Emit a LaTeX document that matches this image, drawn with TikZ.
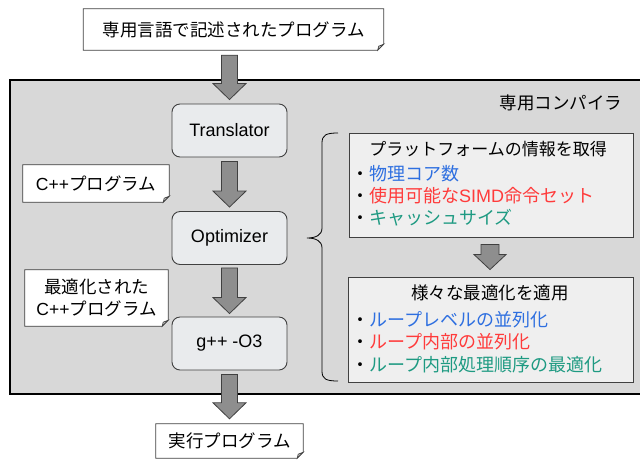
\documentclass[tikz,border=0pt]{standalone}
\usepackage{fontspec}
\setmainfont{Liberation Sans}
\newfontfamily\cjk{Noto Sans CJK JP}
\usetikzlibrary{calc}
\definecolor{graybg}{HTML}{D8D8D8}
\definecolor{stepfill}{HTML}{E9EBED}
\definecolor{infofill}{HTML}{EFEFEF}
\definecolor{edge}{HTML}{404040}
\definecolor{arrowfill}{HTML}{8E8E8E}
\definecolor{cblue}{HTML}{2E6FE0}
\definecolor{cred}{HTML}{FF3B3B}
\definecolor{cteal}{HTML}{1E9A82}
\tikzset{
  jtext/.style={font=\fontsize{17pt}{21pt}\selectfont\cjk, inner sep=0pt},
  itemtext/.style={font=\fontsize{18pt}{21pt}\selectfont\cjk, inner sep=0pt, anchor=west},
  stepbox/.style={draw=edge, line width=0.9pt, fill=stepfill, rounded corners=8pt,
    minimum width=115pt, minimum height=53pt, inner sep=0pt,
    font=\fontsize{18pt}{21pt}\selectfont},
  infobox/.style={draw=edge, line width=0.9pt, fill=infofill, inner sep=0pt},
  notebox/.style={fill=white, inner sep=0pt, align=center,
    font=\fontsize{17.5pt}{22pt}\selectfont\cjk},
  noteline/.style={draw=edge, line width=0.7pt},
  barrow/.style={draw=edge, line width=0.8pt, fill=arrowfill, line join=miter},
  bracestyle/.style={draw=black, line width=0.8pt},
}
\newcommand\notedeco[2]{%
  \fill[#2] ([yshift=6pt]#1.south east) -- (#1.south east) -- ([xshift=-6pt]#1.south east) -- cycle;
  \draw[noteline] (#1.north west) -- (#1.north east) -- ([yshift=6pt]#1.south east)
     -- ([xshift=-6pt]#1.south east) -- (#1.south west) -- cycle;
  \draw[noteline, fill=gray!45] ([yshift=6pt]#1.south east) -- ([xshift=-6pt]#1.south east)
     -- ([xshift=-5pt,yshift=4pt]#1.south east) -- cycle;}
\newcommand\blockarrow[2]{%
  \draw[barrow] ($(#1)+(-8,0)$) -- ($(#1)+(8,0)$) -- ($(#2)+(8,-16)$) -- ($(#2)+(16.5,-16)$)
    -- (#2) -- ($(#2)+(-16.5,-16)$) -- ($(#2)+(-8,-16)$) -- cycle;}
\begin{document}
\begin{tikzpicture}[x=1pt,y=-1pt]
\useasboundingbox (0,0) rectangle (640,459);
% compiler container
\node[draw=black, line width=1.6pt, fill=graybg, minimum width=660pt, minimum height=314pt,
  inner sep=0pt, anchor=north west] (comp) at (9,79) {};
\node[jtext, font=\fontsize{17.5pt}{21pt}\selectfont\cjk] (comptitle) at (561,103) {専用コンパイラ};

% source note
\node[notebox, minimum width=300pt, minimum height=41pt] (src) at (233.5,29.5) {専用言語で記述されたプログラム};
\notedeco{src}{white}

% main steps
\node[stepbox] (tr) at (229.5,130.5) {Translator};
\node[stepbox] (opt) at (229.5,238) {Optimizer};
\node[stepbox] (gpp) at (229.5,343.5) {g++ -O3};

% intermediate notes
\node[notebox, minimum width=146pt, minimum height=37pt] (cpp) at (96,183.5) {{\rmfamily C++}プログラム};
\notedeco{cpp}{graybg}
\node[notebox, minimum width=143pt, minimum height=56pt] (ocpp) at (96.5,298) {最適化された\\{\rmfamily C++}プログラム};
\notedeco{ocpp}{graybg}

% output note
\node[notebox, minimum width=147pt, minimum height=34pt] (out) at (229.5,441) {実行プログラム};
\notedeco{out}{white}

% arrows
\coordinate (a1s) at ($(tr.north |- src.south)+(0,5)$);
\coordinate (a1e) at ($(tr.north)+(0,-4)$);
\blockarrow{a1s}{a1e}
\coordinate (a2s) at ($(tr.south)+(0,4)$);
\coordinate (a2e) at ($(opt.north)+(0,-4)$);
\blockarrow{a2s}{a2e}
\coordinate (a3s) at ($(opt.south)+(0,3)$);
\coordinate (a3e) at ($(gpp.north)+(0,-3)$);
\blockarrow{a3s}{a3e}
\coordinate (a4s) at ($(gpp.south)+(0,4)$);
\coordinate (a4e) at ($(tr.south |- out.north)+(0,-5)$);
\blockarrow{a4s}{a4e}

% info boxes
\node[infobox, minimum width=284pt, minimum height=104pt] (info) at (491,185) {};
\node[jtext] (infot) at (488,149) {プラットフォームの情報を取得};
\node[itemtext] (i1) at (351,174) {・\textcolor{cblue}{物理コア数}};
\node[itemtext] (i2) at (351,196) {・\textcolor{cred}{使用可能な{\rmfamily SIMD}命令セット}};
\node[itemtext] (i3) at (351,218) {・\textcolor{cteal}{キャッシュサイズ}};

\node[infobox, minimum width=285pt, minimum height=105pt] (opts) at (490.5,329.5) {};
\node[jtext, font=\fontsize{17.5pt}{21pt}\selectfont\cjk] (optst) at (490,293) {様々な最適化を適用};
\node[itemtext] (o1) at (351,320) {・\textcolor{cblue}{ループレベルの並列化}};
\node[itemtext] (o2) at (351,342) {・\textcolor{cred}{ループ内部の並列化}};
\node[itemtext] (o3) at (351,365) {・\textcolor{cteal}{ループ内部処理順序の最適化}};

\coordinate (a5s) at ($(info.south)+(-1,7)$);
\coordinate (a5e) at ($(opts.north)+(-0.5,-7)$);
\draw[barrow] ($(a5s)+(-9,0)$) -- ($(a5s)+(9,0)$) -- ($(a5e)+(9,-15)$) -- ($(a5e)+(16,-15)$)
    -- (a5e) -- ($(a5e)+(-16,-15)$) -- ($(a5e)+(-9,-15)$) -- cycle;

% brace
\coordinate (bt) at (338,133);
\coordinate (bm) at (307,238);
\coordinate (bb) at (338,381);
\draw[bracestyle] (bt) .. controls (326,133) and (322,135) .. (322,143) -- (322,228)
  .. controls (322,235) and (316,238) .. (bm)
  .. controls (316,238) and (322,241) .. (322,248) -- (322,371)
  .. controls (322,379) and (326,381) .. (bb);
\end{tikzpicture}
\end{document}
